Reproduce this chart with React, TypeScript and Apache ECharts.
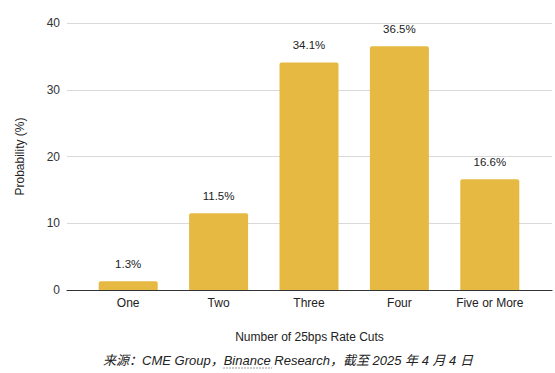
import React, { useEffect, useRef } from "react";
import * as echarts from "echarts";

const categories = ["One", "Two", "Three", "Four", "Five or More"];
const probabilities = [1.3, 11.5, 34.1, 36.5, 16.6];
const yTicks = { min: 0, max: 40, interval: 10 };
const xAxisTitle = "Number of 25bps Rate Cuts";
const yAxisTitle = "Probability (%)";
const footerText = "来源：CME Group，Binance Research，截至 2025 年 4 月 4 日";

const FONT = "'Liberation Sans', Arial, Helvetica, sans-serif";

export default function App() {
  const ref = useRef<HTMLDivElement>(null);
  useEffect(() => {
    if (!ref.current) return;
    const chart = echarts.init(ref.current, undefined, { renderer: "svg" });
    chart.setOption({
      animation: false,
      backgroundColor: "#ffffff",
      textStyle: { fontFamily: FONT },
      grid: [
        { left: 67, right: 3, top: 23, bottom: 83, containLabel: false },
        { left: 83, right: 20, top: 23, bottom: 83, containLabel: false },
      ],
      xAxis: [
        {
          gridIndex: 0,
          type: "value",
          min: 0,
          max: 1,
          axisLine: { show: true, onZero: false, lineStyle: { color: "#333333", width: 1.2 } },
          axisTick: { show: false },
          axisLabel: { show: false },
          splitLine: { show: false },
          name: xAxisTitle,
          nameLocation: "middle",
          nameGap: 41,
          nameTextStyle: { color: "#222222", fontSize: 12, fontFamily: FONT },
        },
        {
          gridIndex: 1,
          type: "category",
          data: categories,
          axisLine: { show: false },
          axisTick: { show: false },
          axisLabel: { color: "#222222", fontSize: 12, margin: 7, fontFamily: FONT },
        },
      ],
      yAxis: [
        {
          gridIndex: 0,
          type: "value",
          min: yTicks.min,
          max: yTicks.max,
          interval: yTicks.interval,
          axisLine: { show: false },
          axisTick: { show: false },
          axisLabel: { color: "#333333", fontSize: 12, margin: 7, fontFamily: FONT },
          splitLine: { lineStyle: { color: "#d9d9d9", width: 1 } },
          name: yAxisTitle,
          nameLocation: "middle",
          nameRotate: 90,
          nameGap: 41,
          nameTextStyle: { color: "#222222", fontSize: 12, fontFamily: FONT },
        },
        {
          gridIndex: 1,
          type: "value",
          min: yTicks.min,
          max: yTicks.max,
          interval: yTicks.interval,
          show: false,
          splitLine: { show: false },
        },
      ],
      series: [
        {
          type: "bar",
          xAxisIndex: 1,
          yAxisIndex: 1,
          data: probabilities,
          barWidth: 59,
          itemStyle: { color: "#E6B942", borderRadius: [2, 2, 0, 0] },
          label: {
            show: true,
            position: "top",
            distance: 11,
            formatter: (p: any) => `${p.value}%`,
            color: "#222222",
            fontSize: 11.5,
            fontFamily: FONT,
          },
        },
      ],
      graphic: [
        {
          type: "text",
          x: 288,
          y: 360,
          style: {
            text: footerText,
            fontSize: 13,
            fontStyle: "italic",
            fontFamily: "'Liberation Sans', 'Noto Sans CJK SC', sans-serif",
            fill: "#222222",
            textAlign: "center",
            textVerticalAlign: "middle",
          },
        },
        {
          type: "line",
          shape: { x1: 223, y1: 368, x2: 272, y2: 368 },
          style: { stroke: "#9a9a9a", lineWidth: 1, lineDash: [2, 1] },
        },
      ],
    });
    return () => chart.dispose();
  }, []);
  return (
    <div
      ref={ref}
      style={{ position: "fixed", left: 0, top: 0, width: 555, height: 373 }}
    />
  );
}
